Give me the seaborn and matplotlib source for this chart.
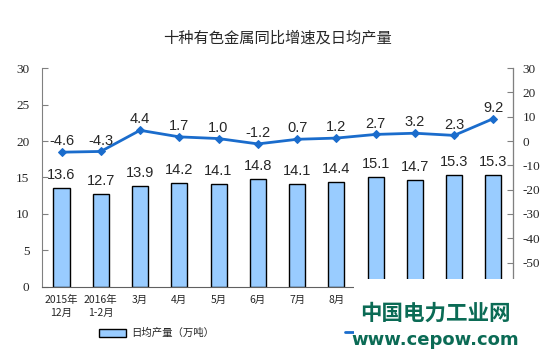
import numpy as np
import pandas as pd
import matplotlib
matplotlib.use("Agg")
import matplotlib.pyplot as plt
import seaborn as sns
from matplotlib.patches import Rectangle, Patch
from matplotlib.lines import Line2D

# data
months = ['2015年\n12月', '2016年\n1-2月', '3月', '4月', '5月', '6月',
          '7月', '8月', '9月', '10月', '11月', '12月']
daily_output = [13.6, 12.7, 13.9, 14.2, 14.1, 14.8, 14.1, 14.4, 15.1, 14.7, 15.3, 15.3]
yoy_growth = [-4.6, -4.3, 4.4, 1.7, 1.0, -1.2, 0.7, 1.2, 2.7, 3.2, 2.3, 9.2]
left_ticks = [0, 5, 10, 15, 20, 25, 30]
right_ticks = [-50, -40, -30, -20, -10, 0, 10, 20, 30]

df = pd.DataFrame({'month': months, 'output': daily_output, 'growth': yoy_growth})

sns.set_style("white")
plt.rcParams['font.family'] = ['Noto Sans CJK SC', 'DejaVu Sans']
plt.rcParams['axes.unicode_minus'] = False

bar_color = '#99ccff'
line_color = '#1a6ccc'
serif = ['Liberation Serif', 'DejaVu Serif']
sans = ['Liberation Sans', 'DejaVu Sans']

fig = plt.figure(figsize=(5.44, 3.6), dpi=100)
ax = fig.add_axes([0.077, 0.203, 0.866, 0.608])

sns.barplot(ax=ax, data=df, x='month', y='output', color=bar_color,
            edgecolor='black', linewidth=1.0, width=0.41, saturation=1)
ax.set_ylim(0, 30)
ax.set_yticks(left_ticks, [str(t) for t in left_ticks], family=serif, fontsize=9.5)
ax.set_xlim(-0.5, len(months) - 0.5)
ax.set_xlabel('')
ax.set_ylabel('')

for i, v in enumerate(daily_output):
    ax.text(i, v + 0.8, f'{v:.1f}', ha='center', va='bottom',
            fontsize=10.5, family=sans)

ax2 = ax.twinx()
sns.lineplot(ax=ax2, x=np.arange(len(months)), y=yoy_growth, color=line_color,
             marker='D', markersize=4.5, markeredgecolor=line_color, linewidth=2)
ax2.set_ylim(-60, 30)
ax2.set_yticks(right_ticks, [str(t) for t in right_ticks], family=serif, fontsize=9.5)
for i, v in enumerate(yoy_growth):
    ax2.text(i, v + 1.6, f'{v:.1f}', ha='center', va='bottom',
             fontsize=10.5, family=sans)

# spines and ticks
for a in (ax, ax2):
    a.spines['top'].set_visible(False)
ax.spines['left'].set_color('#808080')
ax2.spines['right'].set_color('#808080')
ax2.spines['left'].set_visible(False)
ax2.spines['bottom'].set_visible(False)
ax.spines['bottom'].set_color('#606060')

ax.tick_params(axis='y', direction='in', length=4, color='#808080', pad=9)
ax2.tick_params(axis='y', direction='in', length=4, color='#808080', pad=7)

ax.set_xticks(range(len(months)))
ax.set_xticklabels(months, fontsize=7.5, linespacing=1.3)
# the months after August sit under the site's watermark box
for lab in ax.get_xticklabels()[8:]:
    lab.set_visible(False)
ax.tick_params(axis='x', length=0, pad=6)
ax.set_xticks(np.arange(-0.5, len(months), 1), minor=True)
ax.tick_params(axis='x', which='minor', direction='in', length=4, color='#808080')

ax.set_title('十种有色金属同比增速及日均产量', fontsize=11, pad=18)

handles = [Patch(facecolor=bar_color, edgecolor='black', linewidth=1.0),
           Line2D([0], [0], color=line_color, linewidth=2)]
leg = fig.legend(handles, ['日均产量（万吨）', '同比增速（%）'], loc='center left',
                 bbox_to_anchor=(0.165, 0.075), ncol=2, frameon=False, fontsize=7.5,
                 handlelength=2.6, handleheight=0.8, columnspacing=12.5,
                 handletextpad=0.5)
# second legend label lies under the watermark box
leg.get_texts()[1].set_visible(False)

# watermark box covering the lower right corner
fig.add_artist(Rectangle((354 / 544, 0), 1, 81 / 360, transform=fig.transFigure,
                         facecolor='white', edgecolor='none', zorder=10))
fig.text(0.80, 0.13, '中国电力工业网', ha='center', va='center', fontsize=15.5,
         fontweight='bold', color='#0b6b55', zorder=11)
fig.text(0.80, 0.055, 'www.cepow.com', ha='center', va='center', fontsize=13,
         fontweight='bold', color='#0b6b55', family=['DejaVu Sans'], zorder=11)

fig.savefig('out.png', dpi=100)
